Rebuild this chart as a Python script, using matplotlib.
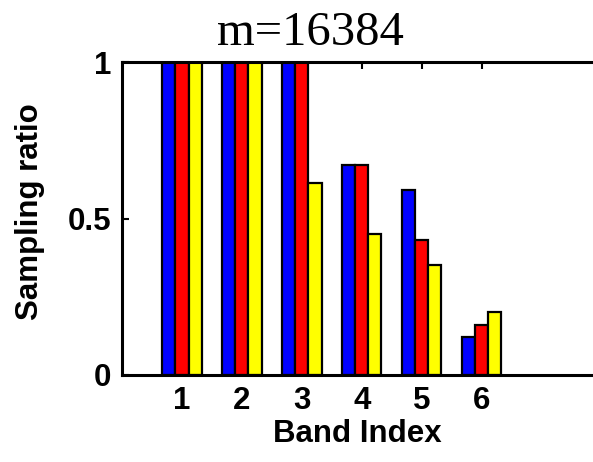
import matplotlib
matplotlib.use('Agg')
import matplotlib.pyplot as plt
import numpy as np

# Sampling ratio per band, three series (blue, red, yellow)
bands = [1, 2, 3, 4, 5, 6]
series_blue = [1.0, 1.0, 1.0, 0.671, 0.591, 0.120]
series_red = [1.0, 1.0, 1.0, 0.671, 0.431, 0.161]
series_yellow = [1.0, 1.0, 0.612, 0.450, 0.351, 0.202]
colors = ['#0000ff', '#ff0000', '#ffff00']

W, H = 593, 462
fig = plt.figure(figsize=(W / 100, H / 100), dpi=100)
ax = fig.add_axes([122 / W, 1 - 375 / H, (W - 122) / W, (375 - 62) / H])

x = np.array(bands)
bw = 0.22
for i, (vals, c) in enumerate(zip([series_blue, series_red, series_yellow], colors)):
    ax.bar(x + (i - 1) * bw, vals, bw, color=c, edgecolor='black', linewidth=1.6, zorder=2)

ax.set_xlim(0, 7.86)
ax.set_ylim(0, 1)
ax.set_xticks(bands)
ax.set_yticks([0, 0.5, 1])
ax.set_yticklabels(['0', '0.5', '1'])

for side in ['left', 'bottom', 'top']:
    ax.spines[side].set_linewidth(2.2)
ax.spines['right'].set_visible(False)
ax.tick_params(direction='in', length=5, width=1.5, top=True,
               labelsize=22.5, pad=8)
for lab in ax.get_xticklabels() + ax.get_yticklabels():
    lab.set_family('Liberation Sans')
    lab.set_fontweight('bold')

ax.set_xlabel('Band Index', fontsize=22.5, family='Liberation Sans',
              fontweight='bold', labelpad=2)
fig.text(30 / W, 1 - 212 / H, 'Sampling ratio', rotation=90, fontsize=22.5,
         family='Liberation Sans', fontweight='bold', ha='center', va='center')
fig.text(310 / W, 1 - 45 / H, 'm=16384', fontsize=35, family='Liberation Serif',
         ha='center', va='baseline')

fig.savefig('out.png', dpi=100)
